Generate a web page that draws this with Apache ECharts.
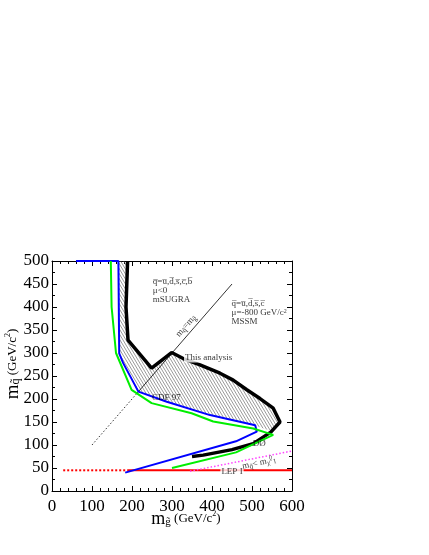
<!DOCTYPE html>
<html>
<head>
<meta charset="utf-8">
<script src="https://cdn.jsdelivr.net/npm/echarts@6/dist/echarts.min.js"></script>
<style>
  html, body { margin: 0; padding: 0; background: #fff; }
  #chart { width: 429px; height: 555px; }
</style>
</head>
<body>
<div id="chart"></div>
<script>
// curves, in (gluino mass, squark mass) GeV/c^2
const thisAnalysis = [[189, 500], [185, 400], [190, 328], [249, 267], [299, 301], [328, 288], [370, 274], [420, 256],
  [453, 241], [487, 220], [520, 201], [553, 180], [570, 150], [547, 128], [503, 103], [450, 90], [378, 78], [350, 75]]
const cdf97 = [[60, 500], [166, 500], [168, 299], [178, 278], [216, 216], [287, 194], [395, 165], [508, 143],
  [512, 129], [460, 108], [183, 40]]
const d0 = [[147, 500], [149, 400], [160, 300], [199, 220], [249, 191], [349, 169], [403, 151], [503, 136],
  [553, 122], [460, 84], [300, 50]]
// excluded region (hatched) between this analysis and CDF
const hatched = [[189, 500], [185, 400], [190, 328], [249, 267], [299, 301], [328, 288], [370, 274], [420, 256],
  [453, 241], [487, 220], [520, 201], [553, 180], [570, 150], [550, 130], [508, 142], [395, 165], [287, 194],
  [216, 216], [178, 278], [168, 299], [166, 500]]
const diagDotted = [[100, 100], [212, 212]]
const diagSolid = [[212, 212], [450, 450]]
const lepDotted = [[28, 45], [190, 45]]
const lepSolid = [[190, 45], [600, 45]]
const neutralino = [[345, 43], [600, 87]]

// text notes
const noteText = [
  'q\u0305=u\u0305,d\u0305,s\u0305,c\u0305,b\u0305\n\u03bc<0\nmSUGRA',
  'q\u0305=u\u0305,d\u0305,s\u0305,c\u0305\n\u03bc=-800 GeV/c{p|2}\nMSSM',
  'This analysis',
  'CDF 97',
  'D\u00d8',
  'LEP I',
  '{a|m}{s|q\u0303}{a|=m}{s|g\u0303}',
  '{a|m}{s|q\u0303}{a|< m}{s|\u03c7\u0303}{p|0}{s|1}'
]
const notePos = [[252, 464], [449, 417], [330, 289], [250, 204], [502, 102], [450, 41], [335, 359], [518, 61]]

const chart = echarts.init(document.getElementById('chart'))

// diagonal hatch pattern
const pat = document.createElement('canvas')
pat.width = 3
pat.height = 5
const pctx = pat.getContext('2d')
pctx.strokeStyle = '#555'
pctx.lineWidth = 0.6
for (const k of [-3, 0, 3]) {
  pctx.beginPath()
  pctx.moveTo(k, 0)
  pctx.lineTo(k + 3, 5)
  pctx.stroke()
}

const serif = 'Liberation Serif'

const lineSeries = (data, color, width, type, z) => ({
  type: 'line',
  data: data,
  symbol: 'none',
  silent: true,
  z: z || 3,
  lineStyle: { color: color, width: width, type: type || 'solid', cap: 'butt' }
})

const axisCommon = {
  min: 0,
  axisLine: { show: true, onZero: false, lineStyle: { color: '#000', width: 1 } },
  axisTick: { show: true, inside: true, length: 5, lineStyle: { color: '#000' } },
  minorTick: { show: true, length: 3, lineStyle: { color: '#000' } },
  splitLine: { show: false },
  minorSplitLine: { show: false }
}

const labelCommon = { fontFamily: serif, fontSize: 17, color: '#000' }

const option = {
  animation: false,
  backgroundColor: '#fff',
  grid: { left: 52, top: 261, width: 240, height: 230 },
  xAxis: [
    Object.assign({}, axisCommon, {
      type: 'value', max: 600, interval: 100, position: 'bottom',
      minorTick: Object.assign({}, axisCommon.minorTick, { splitNumber: 5 }),
      axisLabel: Object.assign({}, labelCommon, { margin: 7 })
    }),
    Object.assign({}, axisCommon, {
      type: 'value', max: 600, interval: 100, position: 'top',
      minorTick: Object.assign({}, axisCommon.minorTick, { splitNumber: 5 }),
      axisLabel: { show: false }
    })
  ],
  yAxis: [
    Object.assign({}, axisCommon, {
      type: 'value', max: 500, interval: 50, position: 'left',
      minorTick: Object.assign({}, axisCommon.minorTick, { splitNumber: 2 }),
      axisLabel: Object.assign({}, labelCommon, { margin: 3 })
    }),
    Object.assign({}, axisCommon, {
      type: 'value', max: 500, interval: 50, position: 'right',
      minorTick: Object.assign({}, axisCommon.minorTick, { splitNumber: 2 }),
      axisLabel: { show: false }
    })
  ],
  graphic: [
    {
      type: 'text', x: 186, y: 519,
      style: {
        text: '{m|m}{s|g\u0303}{u| (GeV/c}{p|2}{u|)}',
        align: 'center', verticalAlign: 'middle',
        rich: {
          m: { fontFamily: serif, fontSize: 18, lineHeight: 18, verticalAlign: 'middle' },
          s: { fontFamily: serif, fontSize: 11, lineHeight: 10, verticalAlign: 'bottom' },
          u: { fontFamily: serif, fontSize: 13, lineHeight: 18, verticalAlign: 'middle' },
          p: { fontFamily: serif, fontSize: 8, lineHeight: 8, verticalAlign: 'top' }
        }
      }
    },
    {
      type: 'text', x: 13, y: 364, rotation: Math.PI / 2,
      style: {
        text: '{m|m}{s|q\u0303}{u| (GeV/c}{p|2}{u|)}',
        align: 'center', verticalAlign: 'middle',
        rich: {
          m: { fontFamily: serif, fontSize: 19, lineHeight: 18, verticalAlign: 'middle' },
          s: { fontFamily: serif, fontSize: 12, lineHeight: 10, verticalAlign: 'bottom' },
          u: { fontFamily: serif, fontSize: 13, lineHeight: 18, verticalAlign: 'middle' },
          p: { fontFamily: serif, fontSize: 8, lineHeight: 8, verticalAlign: 'top' }
        }
      }
    }
  ],
  series: [
    {
      type: 'custom',
      data: [0],
      silent: true,
      z: 1,
      renderItem: (params, api) => ({
        type: 'polygon',
        shape: { points: hatched.map(p => api.coord(p)) },
        style: { fill: { image: pat, repeat: 'repeat' }, stroke: 'none' }
      })
    },
    lineSeries(lepDotted, '#ff0000', 2, [2, 2], 2),
    lineSeries(lepSolid, '#ff0000', 2, 'solid', 2),
    lineSeries(neutralino, '#ff44ff', 1.5, [1.5, 2], 2),
    lineSeries(diagDotted, '#000', 0.8, [1.5, 2], 2),
    lineSeries(diagSolid, '#000', 0.8, 'solid', 2),
    lineSeries(thisAnalysis, '#000', 3.5, 'solid', 3),
    lineSeries(cdf97, '#0000ff', 2, 'solid', 4),
    lineSeries(d0, '#00ee00', 2, 'solid', 5),
    {
      type: 'scatter',
      symbolSize: 0,
      silent: true,
      z: 6,
      label: {
        show: true, position: 'inside', fontFamily: serif, fontSize: 9, color: '#000'
      },
      data: notePos.map((p, i) => {
        const item = { value: p, label: { formatter: noteText[i] } }
        const rich = {
          a: { fontFamily: serif, fontSize: 9, lineHeight: 11, verticalAlign: 'middle' },
          s: { fontFamily: serif, fontSize: 7, lineHeight: 7, verticalAlign: 'bottom' },
          p: { fontFamily: serif, fontSize: 6, lineHeight: 6, verticalAlign: 'top' }
        }
        if (i < 2) {
          Object.assign(item.label, { position: [0, 0], align: 'left', verticalAlign: 'top', lineHeight: 9, rich: rich })
        } else if (i === 2) {
          Object.assign(item.label, { position: [0, 0], align: 'left', verticalAlign: 'middle', backgroundColor: '#fff', padding: [0, 1] })
        } else if (i < 5) {
          Object.assign(item.label, { position: [0, 0], align: 'left', verticalAlign: 'middle' })
        } else if (i === 5) {
          Object.assign(item.label, { backgroundColor: '#fff', padding: [0, 1] })
        } else if (i === 6) {
          Object.assign(item.label, { rotate: 49, rich: rich })
        } else {
          Object.assign(item.label, { rotate: 12, rich: rich })
        }
        return item
      })
    }
  ]
}

chart.setOption(option)
</script>
</body>
</html>
